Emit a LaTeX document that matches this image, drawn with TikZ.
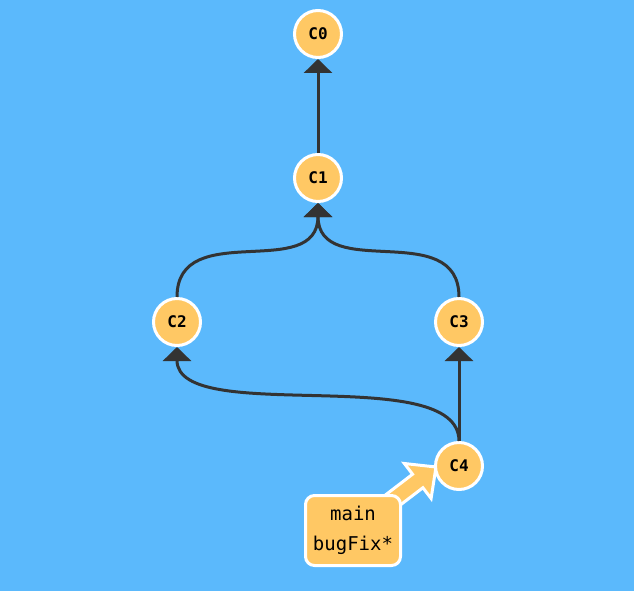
\documentclass[tikz,border=0pt]{standalone}
\usepackage{fontspec}
\setmonofont{DejaVu Sans Mono}
\usetikzlibrary{arrows.meta,calc,backgrounds}
\definecolor{skyblue}{RGB}{91,185,252}
\definecolor{commitfill}{RGB}{255,200,100}
\definecolor{edgegray}{RGB}{51,51,51}
\begin{document}
\begin{tikzpicture}[x=1pt,y=-1pt,
  commit/.style={circle, draw=white, line width=3pt, fill=commitfill,
    minimum size=47pt, inner sep=0pt,
    font=\ttfamily\bfseries\fontsize{16}{16}\selectfont},
  branch/.style={rectangle, rounded corners=9pt, draw=white, line width=3pt,
    fill=commitfill, minimum width=95pt, minimum height=70pt, inner sep=0pt,
    align=center, font=\ttfamily\fontsize{19}{30}\selectfont},
  parent/.style={draw=edgegray, line width=3pt,
    -{Triangle[width=28pt,length=14pt]}},
  pointer/.style={draw=white, line width=3pt, fill=commitfill, line join=miter},
]
\useasboundingbox (0,0) rectangle (634,591);

% commits
\node[commit] (C0) at (318,34) {C0};
\node[commit] (C1) at (318,178) {C1};
\node[commit] (C2) at (177,322) {C2};
\node[commit] (C3) at (459,322) {C3};
\node[commit] (C4) at (459,466) {C4};

% branch label
\node[branch] (lbl) at (353,530.5) {main\\bugFix*};

% parent links
\draw[parent] (C1) -- (C0);
\draw[parent] (C2.north) .. controls +(0,-80) and +(0,80) .. (C1.south);
\draw[parent] (C3.north) .. controls +(0,-80) and +(0,80) .. (C1.south);
\draw[parent] (C4) -- (C3);
\draw[parent] (C4.north) .. controls +(0,-80) and +(0,80) .. (C2.south);

% background and the branch pointer, behind the nodes
\begin{scope}[on background layer]
  \fill[skyblue] (0,0) rectangle (634,591);
  \coordinate (tip) at ($(C4.center)+(-23,1)$);
  \coordinate (tail) at (lbl.center);
  \coordinate (hb) at ($(tip)!23pt!(tail)$);
  \draw[pointer]
    ($(tail)!8.5pt!90:(tip)$) -- ($(hb)!8.5pt!90:(tip)$) --
    ($(hb)!22pt!90:(tip)$) -- (tip) -- ($(hb)!22pt!-90:(tip)$) --
    ($(hb)!8.5pt!-90:(tip)$) -- ($(tail)!8.5pt!-90:(tip)$) -- cycle;
\end{scope}
\end{tikzpicture}
\end{document}
